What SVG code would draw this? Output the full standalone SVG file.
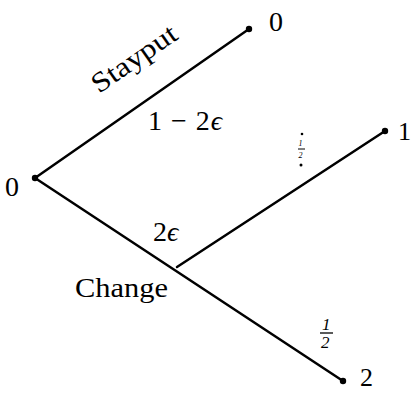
<svg xmlns="http://www.w3.org/2000/svg" width="415" height="393" viewBox="0 0 415 393">
<style>
.e{stroke:#000;stroke-width:2.5;fill:none;stroke-linecap:round}
.t{font-family:"Liberation Serif","DejaVu Serif",serif;font-size:28px;fill:#000}
.s{font-family:"Liberation Serif","DejaVu Serif",serif;fill:#000;font-style:italic}
</style>
<rect width="415" height="393" fill="#fff"/>
<g id="connectors">
<line class="e" x1="35" y1="178" x2="249" y2="29"/>
<line class="e" x1="35" y1="178" x2="343" y2="381"/>
<line class="e" x1="177" y1="267" x2="385" y2="131"/>
</g>
<g id="root"><circle cx="35" cy="178" r="3.2"/><text class="t" x="5" y="196">0</text></g>
<g id="top"><circle cx="249" cy="29" r="3.2"/><text class="t" x="269" y="31">0</text></g>
<g id="mid"><circle cx="385" cy="131" r="3.2"/><text class="t" x="398" y="140" style="font-size:26px">1</text></g>
<g id="bot"><circle cx="343" cy="381" r="3.2"/><text class="t" x="360" y="386" style="font-size:26px">2</text></g>
<g id="labels">
<text class="t" transform="translate(99,94) rotate(-34.8)" textLength="98" lengthAdjust="spacingAndGlyphs">Stayput</text>
<text class="t" x="148" y="130" textLength="74" lengthAdjust="spacing">1 − 2<tspan font-style="italic">ϵ</tspan></text>
<text class="t" x="153" y="241">2<tspan font-style="italic">ϵ</tspan></text>
<text class="t" x="75" y="297" textLength="93" lengthAdjust="spacingAndGlyphs">Change</text>
<text class="s" x="322" y="330" style="font-size:17px">1</text>
<line x1="320" y1="333" x2="333" y2="333" stroke="#000" stroke-width="1.3"/>
<text class="s" x="321" y="348" style="font-size:17px">2</text>
<circle cx="302" cy="134" r="1.3"/>
<text class="s" x="298.5" y="146" style="font-size:8px">1</text>
<line x1="298" y1="149" x2="305" y2="149" stroke="#000" stroke-width="1"/>
<text class="s" x="298.5" y="158" style="font-size:8px">2</text>
<circle cx="301" cy="165" r="1.5"/>
</g>
</svg>
